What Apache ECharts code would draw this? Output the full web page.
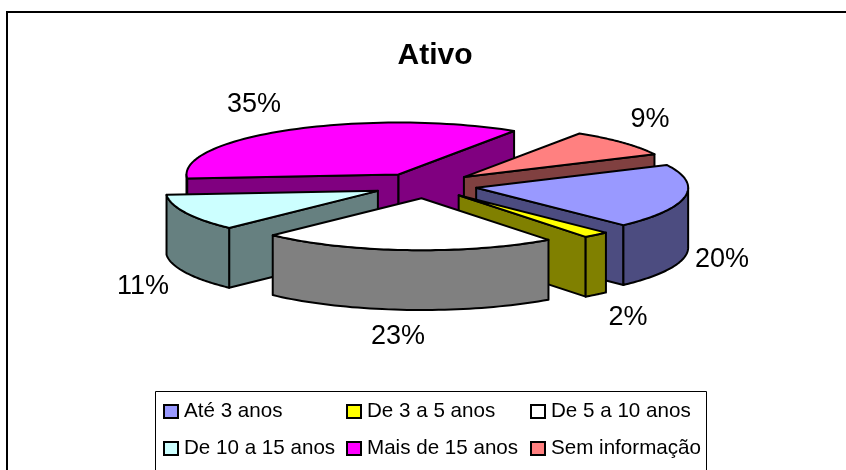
<!DOCTYPE html>
<html><head><meta charset="utf-8">
<style>html,body{margin:0;padding:0;background:#fff}#c{width:846px;height:470px}</style>
<script src="https://cdn.jsdelivr.net/npm/echarts@6/dist/echarts.min.js"></script>
</head><body><div id="c"></div>
<script>
const title = 'Ativo';
const categories = ['Até 3 anos','De 3 a 5 anos','De 5 a 10 anos','De 10 a 15 anos','Mais de 15 anos','Sem informação'];
const shares = [20,2,22.6,11.4,35.4,8.6];
const topColors = ['#9999FF','#FFFF00','#FFFFFF','#CCFFFF','#FF00FF','#FF8080'];
const sideColors = ['#4C4C80','#808000','#808080','#668080','#800080','#804040'];
// layout (not data): paint rank back-to-front, label centres in px
const paintRank = [2,3,5,4,0,1];
const labelPx = [[722,260],[628,318],[398,337],[143,287],[254,105],[650,120]];
const startDeg = -26, explode = 0.245, depth = 1.15;
const FONT = '"Liberation Sans", Arial, sans-serif';

const rad = d => d*Math.PI/180;
function renderSlice(i){
  return function(params, api){
    const val = api.value(2);
    const before = shares.slice(0,i).reduce((a,b)=>a+b,0);
    const total = shares.reduce((a,b)=>a+b,0);
    const a0 = startDeg + before/total*360, a1 = a0 + val/total*360, mid = (a0+a1)/2;
    const ox = explode*Math.cos(rad(mid)), oy = explode*Math.sin(rad(mid));
    const P = (deg, r, d) => api.coord([ox + r*Math.cos(rad(deg)), -(oy + r*Math.sin(rad(deg)) + (d||0))]);
    const stroke = {stroke:'#000', lineWidth:2, lineJoin:'round'};
    const children = [];
    const poly = (pts, fill) => children.push({type:'polygon', shape:{points:pts}, style:Object.assign({fill}, stroke)});
    const face = deg => poly([P(deg,0),P(deg,1),P(deg,1,depth),P(deg,0,depth)], sideColors[i]);
    if (Math.cos(rad(a0)) < 0) face(a0);
    if (Math.cos(rad(a1)) > 0) face(a1);
    // outer wall: the parts of the arc on the near side
    for (const k of [0,360,-360]) {
      const s = Math.max(a0+k,0), e = Math.min(a1+k,180);
      if (e > s) {
        const top=[], bot=[];
        for (let t=0;t<=48;t++){ const d=s+(e-s)*t/48; top.push(P(d,1)); bot.unshift(P(d,1,depth)); }
        poly(top.concat(bot), sideColors[i]);
      }
    }
    const tp=[P(a0,0)];
    for (let t=0;t<=64;t++) tp.push(P(a0+(a1-a0)*t/64,1));
    poly(tp, topColors[i]);
    children.push({type:'text', silent:true, style:{text:Math.round(val)+'%', x:labelPx[i][0], y:labelPx[i][1],
      align:'center', verticalAlign:'middle', font:'27px '+FONT, fill:'#000'}});
    return {type:'group', children};
  };
}
const series = categories.map((name,i)=>({
  type:'custom', name, z:2+paintRank[i], clip:false, coordinateSystem:'cartesian2d',
  itemStyle:{color:topColors[i], borderColor:'#000', borderWidth:2},
  data:[[0,0,shares[i]]], renderItem:renderSlice(i), animation:false, silent:true
}));
const legendBase = {orient:'vertical', itemWidth:14, itemHeight:13, itemGap:16, padding:0, icon:'rect',
  selectedMode:false, textStyle:{fontFamily:FONT, fontSize:20.6, color:'#000', padding:[0,0,0,1]}};
const option = {
  animation:false, backgroundColor:'#fff',
  title:{text:title, textAlign:'center', top:36, left:430,
    textStyle:{fontFamily:FONT, fontSize:30, fontWeight:'bold', color:'#000'}},
  grid:{left:107, width:636, top:29.5, height:312},
  xAxis:{type:'value', min:-1.5, max:1.5, show:false},
  yAxis:{type:'value', min:-3, max:3, show:false},
  legend:[
    Object.assign({},legendBase,{left:163, top:401, data:[categories[0],categories[3]]}),
    Object.assign({},legendBase,{left:346, top:401, data:[categories[1],categories[4]]}),
    Object.assign({},legendBase,{left:530, top:401, data:[categories[2],categories[5]]})
  ],
  graphic:[
    {type:'polyline', silent:true, shape:{points:[[7,480],[7,12],[850,12]]}, style:{fill:'none',stroke:'#000',lineWidth:2}},
    {type:'rect', silent:true, z:-1, shape:{x:155.5,y:391.5,width:551,height:90}, style:{fill:'#fff',stroke:'#000',lineWidth:1}}
  ],
  series
};
echarts.init(document.getElementById('c'),null,{renderer:'canvas'}).setOption(option);
</script></body></html>
